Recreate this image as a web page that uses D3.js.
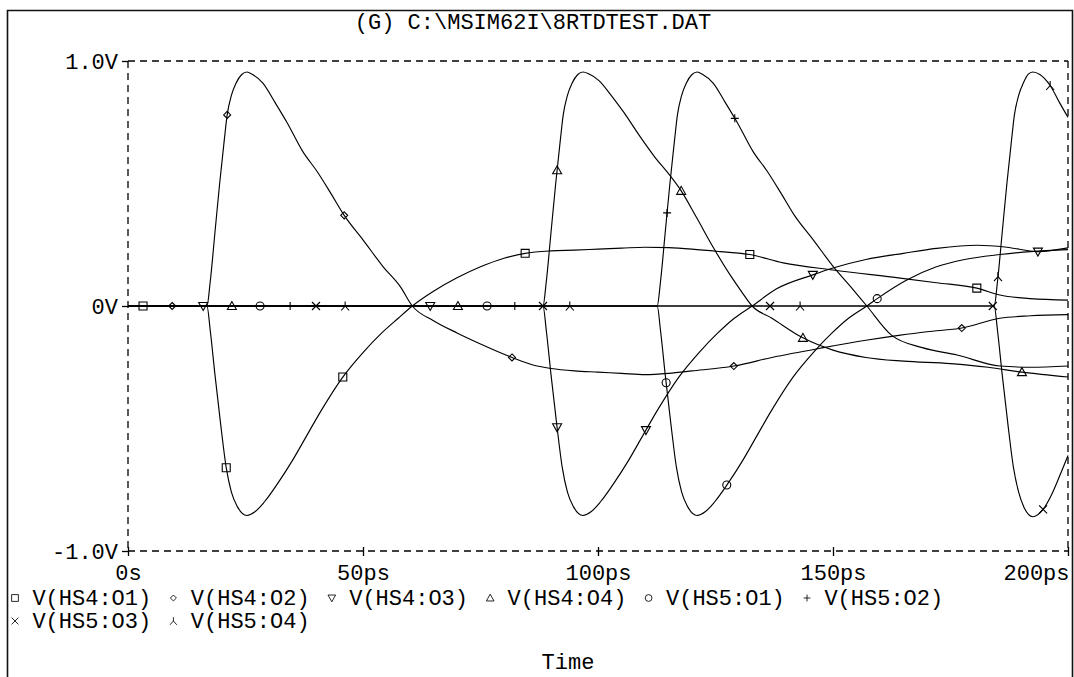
<!DOCTYPE html>
<html>
<head>
<meta charset="utf-8">
<script src="https://cdn.jsdelivr.net/npm/d3@7"></script>
<style>
  html, body { margin: 0; padding: 0; background: #fff; }
  svg { display: block; }
  text { font-family: "Liberation Mono", "DejaVu Sans Mono", monospace; font-size: 22px; fill: #000; }
</style>
</head>
<body>
<svg id="chart" width="1074" height="677"></svg>
<script>
// ---- Probe plot: transient output of the RTD test circuit ----
const titleText = "(G) C:\\MSIM62I\\8RTDTEST.DAT";
const xAxisTitle = "Time";

const xTickValues = [0, 50, 100, 150, 200];          // ps
const xTickLabels = ["0s", "50ps", "100ps", "150ps", "200ps"];
const yTickValues = [1, 0, -1];                       // V
const yTickLabels = ["1.0V", "0V", "-1.0V"];

const seriesNames = ["V(HS4:O1)", "V(HS4:O2)", "V(HS4:O3)", "V(HS4:O4)",
                     "V(HS5:O1)", "V(HS5:O2)", "V(HS5:O3)", "V(HS5:O4)"];
const seriesSymbols = ["square", "diamond", "triDown", "triUp",
                       "circle", "plus", "cross", "lambda"];

// [time ps, volts]
const hs4o1 = [[0,0],[16.8,0],[17.5,-0.1],[18.5,-0.28],[19.7,-0.48],[20.9,-0.66],[22,-0.76],[23.3,-0.82],
  [25.3,-0.855],[27,-0.84],[29,-0.8],[32,-0.72],[35,-0.63],[38,-0.53],[41,-0.43],[45.7,-0.29],[50,-0.19],
  [54,-0.11],[57.5,-0.05],[60.5,0],[65,0.06],[70,0.115],[75,0.16],[80,0.195],[84.5,0.215],[90,0.225],
  [95,0.228],[100,0.232],[105,0.236],[110,0.24],[115,0.238],[120,0.232],[126,0.222],[132.3,0.21],
  [139.4,0.176],[150,0.147],[164.3,0.114],[172,0.095],[180.6,0.073],[185.5,0.045],[192,0.03],[200,0.024]];
const hs4o2 = [[0,0],[16.8,0],[17.5,0.1],[18.5,0.3],[19.5,0.5],[20.5,0.68],[21.1,0.78],[22,0.86],[23,0.91],
  [24.2,0.945],[25.3,0.955],[26.5,0.945],[28.7,0.91],[31.3,0.83],[33.8,0.75],[37.2,0.63],[40.2,0.55],
  [43,0.465],[46,0.37],[50,0.27],[54.3,0.16],[57.9,0.08],[60.5,0],[65,-0.06],[70,-0.11],[75,-0.155],
  [81.7,-0.21],[86,-0.24],[90,-0.255],[95,-0.265],[100,-0.27],[105,-0.275],[110,-0.28],[115,-0.275],
  [120,-0.265],[128.9,-0.245],[137,-0.21],[148,-0.17],[157,-0.14],[164,-0.12],[170,-0.105],
  [177.4,-0.09],[185.5,-0.05],[192,-0.04],[200,-0.035]];
const hs4o3 = [[0,0],[88.3,0],[89,-0.1],[90,-0.28],[91.2,-0.48],[92.4,-0.66],[93.5,-0.76],[94.8,-0.82],
  [96.8,-0.855],[98.5,-0.84],[100.5,-0.8],[103.5,-0.72],[106.5,-0.63],[109.5,-0.53],[112.5,-0.43],
  [117.2,-0.29],[121.5,-0.19],[125.5,-0.11],[129,-0.05],[132.8,0],[138,0.07],[145.7,0.127],[150,0.155],
  [157,0.19],[165,0.215],[172,0.235],[180.6,0.248],[187,0.24],[193.6,0.222],[200,0.237]];
const hs4o4 = [[0,0],[88.3,0],[89,0.1],[90,0.3],[91,0.5],[92,0.68],[92.6,0.78],[93.5,0.86],[94.5,0.91],
  [95.7,0.945],[96.8,0.955],[98,0.948],[100.2,0.92],[102.8,0.86],[105.5,0.79],[109,0.69],[112,0.61],
  [115,0.54],[117.7,0.47],[121,0.36],[124.5,0.24],[128,0.13],[130.5,0.06],[132.8,0],[137,-0.05],[143.6,-0.13],
  [150,-0.18],[157,-0.21],[165,-0.225],[175,-0.235],[183,-0.25],[190.2,-0.27],[200,-0.29]];
const hs5o1 = [[0,0],[112.6,0],[113.3,-0.1],[114.3,-0.28],[115.5,-0.48],[116.7,-0.66],[117.8,-0.76],
  [119.1,-0.82],[121.1,-0.855],[122.8,-0.84],[124.8,-0.8],[127.8,-0.72],[130.8,-0.63],[133.8,-0.53],
  [136.8,-0.43],[141.5,-0.29],[145.8,-0.19],[149.8,-0.11],[153.3,-0.05],[157.2,0],[159.4,0.03],
  [165.7,0.106],[172,0.16],[178,0.19],[185.5,0.21],[192,0.222],[200,0.23]];
const hs5o2 = [[0,0],[112.6,0],[113.3,0.1],[114.3,0.3],[115.3,0.5],[116.3,0.68],[116.9,0.78],[117.8,0.86],
  [118.8,0.91],[120,0.945],[121.1,0.955],[122.3,0.945],[124.5,0.91],[127.1,0.83],[129.6,0.75],[133,0.63],
  [136,0.55],[138.8,0.465],[141.8,0.37],[145.8,0.27],[150.1,0.16],[153.7,0.08],[157.2,0],[162.5,-0.12],
  [169,-0.17],[176.4,-0.2],[185.5,-0.245],[192,-0.25],[200,-0.245]];
const hs5o3 = [[0,0],[184.3,0],[185,-0.1],[186,-0.28],[187.2,-0.48],[188.4,-0.66],[189.5,-0.76],
  [190.6,-0.82],[192.5,-0.86],[194.7,-0.83],[196.5,-0.77],[198.3,-0.69],[200,-0.61]];
const hs5o4 = [[0,0],[184.3,0],[185,0.1],[186,0.3],[187,0.5],[188,0.68],[188.6,0.78],[189.5,0.86],
  [190.5,0.91],[191.5,0.945],[192.5,0.955],[194,0.945],[196.2,0.9],[198.2,0.83],[200,0.77]];

// times (ps) at which each trace carries its symbol
const markTimes = [
  [3.2, 20.9, 45.7, 84.5, 132.3, 180.6],
  [9.4, 21.1, 46.0, 81.7, 128.9, 177.4],
  [16.0, 64.3, 91.3, 110.2, 145.7, 193.6],
  [22.1, 70.2, 91.3, 117.7, 143.6, 190.2],
  [28.1, 76.4, 114.5, 127.4, 159.4],
  [34.5, 82.3, 114.7, 129.1],
  [40.0, 88.3, 136.6, 184.0, 194.7],
  [46.2, 94.0, 143.0, 185.1, 196.2]
];

const seriesData = [hs4o1, hs4o2, hs4o3, hs4o4, hs5o1, hs5o2, hs5o3, hs5o4];

// ---- layout ----
const svg = d3.select("#chart");
const plot = { left: 128, right: 1068, top: 61, bottom: 551 };

const x = d3.scaleLinear().domain([0, 200]).range([plot.left, plot.right]);
const y = d3.scaleLinear().domain([-1, 1]).range([plot.bottom, plot.top]);

// outer page frame
svg.append("path")
  .attr("d", "M7.5,677 V10.5 H1072.5 V677")
  .attr("fill", "none").attr("stroke", "#111").attr("stroke-width", 1.6);

// title
svg.append("text").attr("x", 533).attr("y", 29).attr("text-anchor", "middle").text(titleText);

// dashed plot border
const dash = "7,5";
const border = svg.append("g").attr("stroke", "#000").attr("stroke-width", 1.3)
  .attr("stroke-dasharray", dash).attr("fill", "none");
border.append("line").attr("x1", plot.left).attr("x2", plot.right).attr("y1", plot.top).attr("y2", plot.top);
border.append("line").attr("x1", plot.left).attr("x2", plot.right).attr("y1", plot.bottom).attr("y2", plot.bottom);
border.append("line").attr("x1", plot.left).attr("x2", plot.left).attr("y1", plot.top).attr("y2", plot.bottom);
border.append("line").attr("x1", plot.right).attr("x2", plot.right).attr("y1", plot.top).attr("y2", plot.bottom);

// y axis ticks and labels
const yAxis = d3.axisLeft(y).tickValues(yTickValues).tickSize(6)
  .tickFormat((d, i) => yTickLabels[i]).tickPadding(4);
const gy = svg.append("g").attr("transform", `translate(${plot.left},0)`).call(yAxis);
gy.select(".domain").remove();
gy.selectAll(".tick line").attr("stroke", "#000").attr("stroke-width", 1.3);
gy.selectAll(".tick text").attr("font-size", 22).attr("font-family", "Liberation Mono")
  .attr("dy", "0.32em").attr("fill", "#000");

// x axis ticks and labels
const xAxis = d3.axisBottom(x).tickValues(xTickValues).tickSize(5)
  .tickFormat((d, i) => xTickLabels[i]).tickPadding(8);
const gx = svg.append("g").attr("transform", `translate(0,${plot.bottom})`).call(xAxis);
gx.select(".domain").remove();
gx.selectAll(".tick line").attr("stroke", "#000").attr("stroke-width", 1.3)
  .attr("y1", -4);
gx.selectAll(".tick text").attr("font-size", 22).attr("font-family", "Liberation Mono").attr("fill", "#000");
gx.selectAll(".tick text").filter((d) => d === 200).attr("text-anchor", "end").attr("dx", 1);

// traces
const line = d3.line().x(d => x(d[0])).y(d => y(d[1])).curve(d3.curveMonotoneX);
svg.append("g").selectAll("path").data(seriesData).join("path")
  .attr("d", line).attr("fill", "none").attr("stroke", "#000").attr("stroke-width", 1.15);

// symbols
function symbolPath(kind) {
  switch (kind) {
    case "square":  return "M-4,-4H4V4H-4Z";
    case "diamond": return "M0,-3.5L3.5,0L0,3.5L-3.5,0Z";
    case "triDown": return "M-4.5,-3.5H4.5L0,4.5Z";
    case "triUp":   return "M-4.5,3.5H4.5L0,-4.5Z";
    case "circle":  return "M4,0A4,4 0 1,1 -4,0A4,4 0 1,1 4,0Z";
    case "plus":    return "M-4,0H4M0,-4V4";
    case "cross":   return "M-4,-4L4,4M4,-4L-4,4";
    case "lambda":  return "M0,-4.5V0L-4,4.5M0,0L4,4.5";
  }
}
function valueAt(data, t) {
  const i = d3.bisector(d => d[0]).left(data, t);
  if (i <= 0) return data[0][1];
  if (i >= data.length) return data[data.length - 1][1];
  const a = data[i - 1], b = data[i];
  return a[1] + (b[1] - a[1]) * (t - a[0]) / (b[0] - a[0]);
}
const marks = [];
markTimes.forEach((times, s) => times.forEach(t => marks.push({ s, t, v: valueAt(seriesData[s], t) })));
svg.append("g").selectAll("path").data(marks).join("path")
  .attr("transform", d => `translate(${x(d.t)},${y(d.v)})`)
  .attr("d", d => symbolPath(seriesSymbols[d.s]))
  .attr("fill", "none").attr("stroke", "#000").attr("stroke-width", 1.1);

// legend: six entries on the first row, two on the second
const charW = 13.2;
const legend = svg.append("g");
seriesNames.forEach((name, i) => {
  const row = i < 6 ? 0 : 1;
  const col = i < 6 ? i : i - 6;
  const x0 = 10 + col * 12 * charW;
  const base = row === 0 ? 605 : 628;
  const g = legend.append("g");
  g.append("path").attr("transform", `translate(${x0 + 5},${base - 7}) scale(0.85)`)
    .attr("d", symbolPath(seriesSymbols[i]))
    .attr("fill", "none").attr("stroke", "#000").attr("stroke-width", 1);
  g.append("text").attr("x", x0 + 2 * charW - 4).attr("y", base).text(name);
});

// axis title
svg.append("text").attr("x", 568).attr("y", 669).attr("text-anchor", "middle").text(xAxisTitle);
</script>
</body>
</html>
